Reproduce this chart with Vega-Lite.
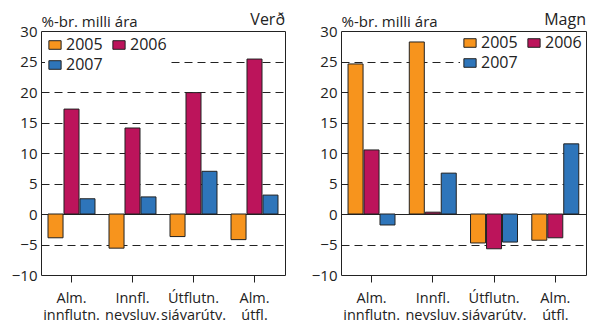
{
  "$schema": "https://vega.github.io/schema/vega-lite/v6.json",
  "padding": {"left": 10, "top": 11, "right": 0, "bottom": 0},
  "spacing": 24,
  "datasets": {
    "d": [
      {"panel": "Verð", "cat": "Alm. innflutn.", "year": "2005", "value": -3.9},
      {"panel": "Verð", "cat": "Alm. innflutn.", "year": "2006", "value": 17.2},
      {"panel": "Verð", "cat": "Alm. innflutn.", "year": "2007", "value": 2.5},
      {"panel": "Verð", "cat": "Innfl. neysluv.", "year": "2005", "value": -5.6},
      {"panel": "Verð", "cat": "Innfl. neysluv.", "year": "2006", "value": 14.1},
      {"panel": "Verð", "cat": "Innfl. neysluv.", "year": "2007", "value": 2.8},
      {"panel": "Verð", "cat": "Útflutn. sjávarútv.", "year": "2005", "value": -3.7},
      {"panel": "Verð", "cat": "Útflutn. sjávarútv.", "year": "2006", "value": 19.9},
      {"panel": "Verð", "cat": "Útflutn. sjávarútv.", "year": "2007", "value": 7.0},
      {"panel": "Verð", "cat": "Alm. útfl.", "year": "2005", "value": -4.2},
      {"panel": "Verð", "cat": "Alm. útfl.", "year": "2006", "value": 25.4},
      {"panel": "Verð", "cat": "Alm. útfl.", "year": "2007", "value": 3.1},
      {"panel": "Magn", "cat": "Alm. innflutn.", "year": "2005", "value": 24.6},
      {"panel": "Magn", "cat": "Alm. innflutn.", "year": "2006", "value": 10.5},
      {"panel": "Magn", "cat": "Alm. innflutn.", "year": "2007", "value": -1.8},
      {"panel": "Magn", "cat": "Innfl. neysluv.", "year": "2005", "value": 28.2},
      {"panel": "Magn", "cat": "Innfl. neysluv.", "year": "2006", "value": 0.3},
      {"panel": "Magn", "cat": "Innfl. neysluv.", "year": "2007", "value": 6.7},
      {"panel": "Magn", "cat": "Útflutn. sjávarútv.", "year": "2005", "value": -4.75},
      {"panel": "Magn", "cat": "Útflutn. sjávarútv.", "year": "2006", "value": -5.7},
      {"panel": "Magn", "cat": "Útflutn. sjávarútv.", "year": "2007", "value": -4.6},
      {"panel": "Magn", "cat": "Alm. útfl.", "year": "2005", "value": -4.3},
      {"panel": "Magn", "cat": "Alm. útfl.", "year": "2006", "value": -3.9},
      {"panel": "Magn", "cat": "Alm. útfl.", "year": "2007", "value": 11.5}
    ]
  },
  "config": {
    "font": "Open Sans",
    "view": {"stroke": "#222", "strokeWidth": 1},
    "axis": {"labelFontSize": 15, "labelColor": "#222", "titleColor": "#222", "domain": false},
    "title": {"fontSize": 16, "fontWeight": "normal", "color": "#222", "anchor": "end", "frame": "group", "offset": -14},
    "legend": {
      "title": null, "columns": 2, "direction": "horizontal", "fillColor": "white", "padding": 2, "labelFontSize": 16,
      "labelColor": "#222", "symbolStrokeColor": "#222", "symbolStrokeWidth": 1,
      "symbolType": "M-1,-0.7H1V0.7H-1Z", "symbolSize": 150, "rowPadding": 4, "columnPadding": 7, "labelOffset": 3
    }
  },
  "resolve": {"scale": {"color": "independent"}, "legend": {"color": "independent"}},
  "hconcat": [
    {
      "width": 244, "height": 244,
      "title": {"text": "Verð"},
      "data": {"name": "d"},
      "transform": [{"filter": "datum.panel == 'Verð'"}],
      "mark": {"type": "bar", "stroke": "#222", "strokeWidth": 1},
      "encoding": {
        "x": {"field": "cat", "type": "nominal", "sort": ["Alm. innflutn.", "Innfl. neysluv.", "Útflutn. sjávarútv.", "Alm. útfl."],
          "scale": {"paddingInner": 0.23, "paddingOuter": 0.115},
          "axis": {"title": null, "labelAngle": 0, "labelFontSize": 14.5, "labelExpr": "split(datum.label, ' ')", "tickSize": 7, "tickColor": "#222", "labelPadding": 9, "labelLineHeight": 17, "grid": false}},
        "xOffset": {"field": "year", "type": "nominal", "scale": {"paddingInner": 0.06}},
        "y": {"field": "value", "type": "quantitative", "scale": {"domain": [-10, 30]},
          "axis": {"values": [-10, -5, 0, 5, 10, 15, 20, 25, 30], "labelOverlap": false, "ticks": false, "labelPadding": 4,
            "grid": true, "gridColor": "#222",
            "gridDash": {"condition": {"test": "datum.value == 0", "value": []}, "value": [8, 5]},
            "gridOpacity": {"condition": {"test": "datum.value == 30 || datum.value == -10", "value": 0}, "value": 1},
            "title": "%-br. milli ára", "titleAngle": 0, "titleX": 0, "titleY": -5, "titleAlign": "left", "titleBaseline": "alphabetic", "titleFontWeight": "normal", "titleFontSize": 15}},
        "color": {"field": "year", "type": "nominal", "scale": {"domain": ["2005", "2006", "2007"], "range": ["#F7941D", "#BC145B", "#2E75BA"]},
          "legend": {"orient": "top-left", "offset": 4}}
      }
    },
    {
      "width": 245, "height": 244,
      "title": {"text": "Magn"},
      "data": {"name": "d"},
      "transform": [{"filter": "datum.panel == 'Magn'"}],
      "mark": {"type": "bar", "stroke": "#222", "strokeWidth": 1},
      "encoding": {
        "x": {"field": "cat", "type": "nominal", "sort": ["Alm. innflutn.", "Innfl. neysluv.", "Útflutn. sjávarútv.", "Alm. útfl."],
          "scale": {"paddingInner": 0.23, "paddingOuter": 0.115},
          "axis": {"title": null, "labelAngle": 0, "labelFontSize": 14.5, "labelExpr": "split(datum.label, ' ')", "tickSize": 7, "tickColor": "#222", "labelPadding": 9, "labelLineHeight": 17, "grid": false}},
        "xOffset": {"field": "year", "type": "nominal", "scale": {"paddingInner": 0.06}},
        "y": {"field": "value", "type": "quantitative", "scale": {"domain": [-10, 30]},
          "axis": {"values": [-10, -5, 0, 5, 10, 15, 20, 25, 30], "labelOverlap": false, "ticks": false, "labelPadding": 4,
            "grid": true, "gridColor": "#222",
            "gridDash": {"condition": {"test": "datum.value == 0", "value": []}, "value": [8, 5]},
            "gridOpacity": {"condition": {"test": "datum.value == 30 || datum.value == -10", "value": 0}, "value": 1},
            "title": "%-br. milli ára", "titleAngle": 0, "titleX": 0, "titleY": -5, "titleAlign": "left", "titleBaseline": "alphabetic", "titleFontWeight": "normal", "titleFontSize": 15}},
        "color": {"field": "year", "type": "nominal", "scale": {"domain": ["2005", "2006", "2007"], "range": ["#F7941D", "#BC145B", "#2E75BA"]},
          "legend": {"orient": "top-right", "offset": 2}}
      }
    }
  ]
}
